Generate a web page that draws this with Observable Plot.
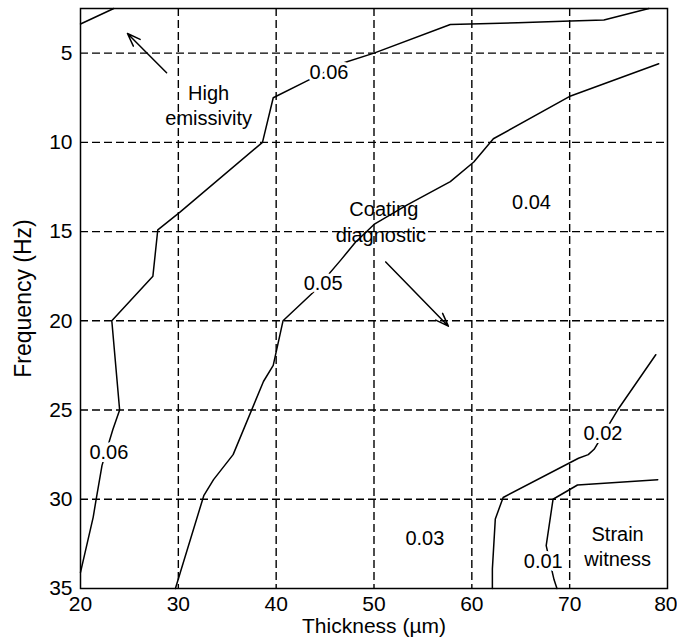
<!DOCTYPE html>
<html>
<head>
<meta charset="utf-8">
<script src="https://cdn.jsdelivr.net/npm/d3@7"></script>
<script src="https://cdn.jsdelivr.net/npm/@observablehq/plot@0.6"></script>
<style>
  body { margin: 0; background: #fff; }
</style>
</head>
<body>
<div id="chart"></div>
<script>
// Axis ticks and grid positions
const thicknessTicks = [20, 30, 40, 50, 60, 70];
const thicknessLastTick = [80];
const frequencyTicks = [5, 10, 15, 20, 25, 30, 35];
const gridThickness = [30, 40, 50, 60, 70];
const gridFrequency = [5, 10, 15, 20, 25, 30];

// Contour lines: [thickness (µm), frequency (Hz)]
const contour006corner = [[20, 3.37], [23.4, 2.5]];
const contour006 = [[20, 34.1], [21.3, 31.0], [21.6, 30.0], [22.2, 28.1], [23.3, 26.1], [24.0, 25.0],
  [23.2, 20.0], [27.4, 17.5], [27.9, 14.9], [30.2, 13.9], [38.6, 10.0], [39.7, 7.5], [43.0, 6.6],
  [46.6, 5.6], [50.0, 5.0], [57.8, 3.4], [64.7, 3.3], [70.1, 3.2], [73.5, 3.15], [78.1, 2.5]];
const contour005 = [[29.7, 35], [30.2, 34.1], [32.6, 29.8], [33.6, 28.9], [35.6, 27.5], [38.7, 23.4],
  [39.7, 22.5], [40.7, 20.0], [43.8, 18.4], [46.6, 16.6], [48.1, 15.6], [50.0, 14.6], [53.4, 13.5],
  [57.8, 12.2], [60.2, 11.1], [62.2, 9.8], [70.1, 7.4], [79.1, 5.6]];
const contour002 = [[62.1, 35], [62.1, 33.9], [62.4, 31.1], [63.2, 29.9], [70.9, 27.7], [71.9, 27.5],
  [72.5, 27.2], [74.9, 25.0], [78.8, 21.9]];
const contour001 = [[68.7, 35], [68.4, 34.5], [67.6, 32.6], [68.3, 30.0], [70.8, 29.2], [79.0, 28.9]];

// Contour level labels
const levelText = ["0.06", "0.06", "0.05", "0.04", "0.03", "0.02", "0.01"];
const levelX = [45.4, 22.9, 44.8, 66.1, 55.2, 73.4, 67.3];
const levelY = [6.1, 27.4, 17.9, 13.4, 32.2, 26.3, 33.5];

// Annotation texts
const noteText = ["High", "emissivity", "Coating", "diagnostic", "Strain", "witness"];
const noteX = [33.1, 33.1, 51.0, 50.7, 74.9, 74.9];
const noteY = [7.25, 8.65, 13.75, 15.2, 32.0, 33.4];

// Annotation arrows
const arrowX1 = [28.8, 51.2];
const arrowY1 = [6.1, 16.7];
const arrowX2 = [24.8, 57.6];
const arrowY2 = [3.9, 20.3];

const contours = [contour006corner, contour006, contour005, contour002, contour001];
const lineData = contours.flatMap((c, i) => c.map(([x, y]) => ({x, y, id: i})));
const levels = levelText.map((t, i) => ({t, x: levelX[i], y: levelY[i]}));
const notes = noteText.map((t, i) => ({t, x: noteX[i], y: noteY[i]}));
const arrows = arrowX1.map((_, i) => ({x1: arrowX1[i], y1: arrowY1[i], x2: arrowX2[i], y2: arrowY2[i]}));

const chart = Plot.plot({
  width: 677,
  height: 643,
  marginLeft: 80,
  marginRight: 10,
  marginTop: 8,
  marginBottom: 55,
  style: {fontFamily: "'Liberation Sans', Arial, sans-serif", fontSize: "20px", background: "#fff", color: "#000"},
  x: {domain: [20, 80]},
  y: {domain: [2.5, 35], reverse: true},
  marks: [
    Plot.gridX(gridThickness, {stroke: "#000", strokeOpacity: 1, strokeWidth: 1.4, strokeDasharray: "8,4"}),
    Plot.gridY(gridFrequency, {stroke: "#000", strokeOpacity: 1, strokeWidth: 1.4, strokeDasharray: "8,4"}),
    Plot.line(lineData, {x: "x", y: "y", z: "id", stroke: "#000", strokeWidth: 1.5}),
    Plot.frame({stroke: "#000", strokeWidth: 1.5}),
    Plot.text(levels, {x: "x", y: "y", text: "t", fill: "#000", stroke: "#fff", strokeWidth: 6, fontSize: 20}),
    Plot.text(notes, {x: "x", y: "y", text: "t", fill: "#000", fontSize: 20}),
    Plot.arrow(arrows, {x1: "x1", y1: "y1", x2: "x2", y2: "y2", stroke: "#000", strokeWidth: 1.5, headLength: 14, headAngle: 40}),
    Plot.axisX({ticks: thicknessTicks, tickSize: 0, tickPadding: 8, label: null, fontSize: 21}),
    Plot.axisX({ticks: thicknessLastTick, tickSize: 0, tickPadding: 8, label: null, fontSize: 21, textAnchor: "end", dx: 10}),
    Plot.axisX({ticks: [], tickSize: 0, label: "Thickness (µm)", labelAnchor: "center", labelArrow: "none", labelOffset: 44, fontSize: 21}),
    Plot.axisY({ticks: frequencyTicks, tickSize: 0, tickPadding: 8, label: null, fontSize: 21}),
    Plot.axisY({ticks: [], tickSize: 0, label: "Frequency (Hz)", labelAnchor: "center", labelArrow: "none", labelOffset: 66, fontSize: 23})
  ]
});
document.getElementById("chart").appendChild(chart);
</script>
</body>
</html>
